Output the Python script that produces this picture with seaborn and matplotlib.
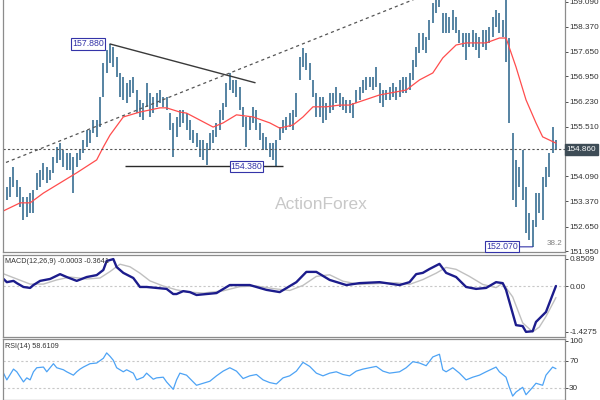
import matplotlib
matplotlib.use("Agg")
import matplotlib.pyplot as plt
import seaborn as sns
import numpy as np

# ---------------- data ----------------
highs = [
153.70,153.78,154.07,154.36,153.98,153.78,153.50,153.50,153.61,153.70,
154.19,154.27,154.47,154.36,154.27,154.64,154.93,155.04,154.84,154.76,
154.76,154.64,154.76,154.84,155.13,155.42,155.42,155.70,155.70,156.36,
157.34,157.71,157.88,157.79,157.51,157.05,156.93,156.76,156.85,156.93,
156.56,156.28,156.19,156.76,156.48,156.36,156.48,156.56,156.36,156.36,
155.90,155.62,155.79,155.99,155.99,155.90,155.70,155.42,155.33,155.13,
155.13,155.04,155.33,155.42,155.62,155.99,156.19,156.76,157.05,156.85,
156.85,156.65,156.08,155.79,155.79,156.08,155.99,155.62,155.33,155.22,
155.04,155.04,155.13,155.50,155.70,155.79,155.90,155.99,156.48,157.51,
157.77,157.62,157.34,156.85,156.48,156.36,156.36,156.19,156.48,156.48,
156.65,156.48,156.36,156.28,156.28,156.19,156.56,156.65,156.85,156.93,
156.93,156.93,157.22,156.76,156.56,156.56,156.65,156.76,156.65,156.85,
156.93,156.93,157.05,157.42,157.79,158.19,158.19,158.08,158.57,159.05,
159.20,159.20,158.77,158.77,158.65,158.85,158.65,158.28,158.19,158.19,
158.19,158.28,158.19,158.08,158.28,158.28,158.37,158.65,158.85,158.77,
158.57,159.20,158.05,155.33,154.56,154.36,154.84,153.78,153.04,152.84,
153.61,153.61,154.07,154.36,154.76,155.50,155.13]
lows = [
153.33,153.41,153.50,153.78,153.50,153.21,152.84,152.93,153.04,153.04,
153.70,153.78,153.98,153.90,153.98,154.19,154.47,154.56,154.36,154.27,
154.27,153.61,154.36,154.56,154.76,154.93,155.04,155.33,155.22,155.50,
156.36,157.05,157.34,157.22,156.93,156.36,156.28,156.19,156.36,156.48,
155.90,155.79,155.70,156.08,155.79,155.90,156.08,156.19,156.08,155.99,
155.42,154.64,155.22,155.50,155.62,155.42,155.13,155.04,154.93,154.64,
154.56,154.40,154.84,155.04,155.22,155.42,155.70,156.08,156.56,156.48,
156.36,155.99,155.50,154.93,155.42,155.62,155.42,155.13,154.84,154.84,
154.64,154.56,154.38,155.13,155.33,155.42,155.50,155.42,155.79,156.85,
157.22,157.14,156.85,156.36,155.79,155.79,155.62,155.70,155.90,155.99,
156.19,156.08,155.99,155.90,155.90,155.76,156.19,156.28,156.48,156.56,
156.65,156.56,156.65,156.19,156.08,156.28,156.28,156.36,156.28,156.36,
156.48,156.48,156.56,156.85,157.22,157.62,157.71,157.62,157.99,158.48,
158.77,158.94,158.19,158.19,158.19,158.28,158.19,157.91,157.79,157.42,
157.79,157.79,157.71,157.48,157.79,157.71,157.91,158.08,158.37,158.19,
158.08,157.36,155.62,153.41,153.21,153.78,153.41,152.47,152.27,152.07,
152.64,153.04,152.84,153.78,154.07,154.76,154.86]

ma_bar = [0,5,8,12,17,22,28,30,32,36,41,47,49,53,55,59,63,66,70,75,80,83,87,90,93,97,
          101,104,113,121,125,129,132,136,139,145,149,151,154,157,160,162,166]
ma_val = [153.10,153.33,153.33,153.61,153.90,154.19,154.56,154.93,155.27,155.79,155.93,
          156.05,156.05,155.93,155.90,155.70,155.50,155.62,155.85,155.79,155.62,155.47,
          155.56,155.79,156.08,156.08,156.13,156.13,156.42,156.56,156.85,157.05,157.48,
          157.85,157.91,157.91,158.05,158.05,157.22,156.28,155.62,155.22,155.04]

macd_bar = [0,1,3,4,6,8,9,11,14,17,19,22,25,28,30,31,33,34,36,39,41,43,46,49,51,52,54,56,
            58,64,68,74,79,83,88,91,94,98,103,107,113,119,122,124,126,128,131,133,136,139,
            142,145,148,150,151,154,156,157,159,160,163,166]
macd_val = [0.22,0.12,0.16,0.09,-0.03,-0.06,0.03,0.16,0.22,0.37,0.28,0.16,0.28,0.34,0.50,
            0.78,0.84,0.59,0.41,0.25,-0.03,-0.03,-0.06,-0.09,-0.25,-0.25,-0.16,-0.19,-0.28,
            -0.22,0.03,0.03,-0.12,-0.19,0.12,0.44,0.44,0.19,0.03,0.09,0.12,0.03,0.12,0.37,
            0.41,0.53,0.69,0.41,0.28,-0.03,-0.09,-0.06,0.12,0.09,-0.12,-1.22,-1.25,-1.43,
            -1.41,-1.12,-0.81,0.00]
sig_bar = [0,4,8,12,16,20,25,29,32,35,38,41,44,48,52,56,60,66,71,76,81,86,90,94,98,102,
           107,113,118,122,126,130,133,136,140,144,148,150,153,156,159,161,163,166]
sig_val = [0.38,0.22,0.06,0.06,0.19,0.28,0.22,0.25,0.45,0.68,0.60,0.40,0.16,0.0,-0.12,
           -0.19,-0.22,-0.15,-0.02,0.0,-0.08,-0.14,0.02,0.30,0.35,0.15,0.05,0.08,0.10,0.05,
           0.20,0.40,0.58,0.52,0.30,0.05,-0.05,0.09,-0.34,-1.15,-1.43,-1.28,-0.95,-0.36]

rsi_bar = [0,1,3,4,6,7,8,9,10,12,13,15,16,18,19,21,22,23,24,26,28,30,31,32,33,34,36,37,39,
           40,42,43,45,46,48,49,51,52,53,55,57,58,62,64,66,68,70,72,74,76,78,80,82,84,86,88,
           90,92,94,96,98,100,102,104,106,108,110,112,114,116,119,121,123,125,127,129,131,
           132,133,135,137,139,141,143,145,148,149,151,152,153,154,156,157,159,160,162,163,
           165,166]
rsi_val = [52,42,58,54,39,45,42,54,60,61,54,66,60,57,54,49,54,58,61,66,67,74,82,77,71,60,
           54,57,52,42,46,52,43,45,46,39,28,42,52,49,39,34,40,48,55,60,55,44,48,50,42,38,36,
           45,48,55,68,62,52,48,52,54,50,48,55,58,60,62,55,52,54,60,69,67,63,76,80,57,54,60,
           52,42,46,49,54,61,54,46,31,18,24,31,20,31,37,34,49,61,58.61]

price_ticks = [159.090, 158.370, 157.650, 156.950, 156.230, 155.510,
               154.090, 153.370, 152.650, 151.950]
last_price = 154.860
peak_bar, peak_price = 32, 157.880
support_bar, support_price = 82, 154.380
low_bar, low_price = 159, 152.070
trend_up_bar = [-1, 130]
trend_up_val = [154.42, 159.41]
trend_down_bar = [32, 75.6]
trend_down_val = [157.88, 156.77]
support_span = [36.5, 84]
macd_ticks = [0.8509, 0.0, -1.4275]
macd_tick_labels = ["0.8509", "0.00", "-1.4275"]
rsi_ticks = [100, 70, 30]
macd_label = "MACD(12,26,9) -0.0003 -0.3641"
rsi_label = "RSI(14) 58.6109"
fib_label = "38.2"
watermark = "ActionForex"

# ---------------- style ----------------
sns.set_style("white")
plt.rcParams['font.family'] = ['Liberation Sans', 'DejaVu Sans']

BAR = '#4f7f9f'
SPINE = '#8c8c8c'
TXT = '#333333'
BOXC = '#3434a8'

fig = plt.figure(figsize=(6, 4), dpi=100)
W = 562 / 600
ax = fig.add_axes([3 / 600, 1 - 252 / 400, W, 252 / 400])
axm = fig.add_axes([3 / 600, 1 - 337 / 400, W, 82 / 400])
axr = fig.add_axes([3 / 600, 0, W, 61 / 400])

xlim = (-0.15, 168.72)
for a in (ax, axm, axr):
    a.set_xlim(*xlim)
    a.set_xticks([])
    a.yaxis.tick_right()
    a.tick_params(axis='y', labelsize=5.9, colors=TXT, length=2, width=0.6, pad=1,
                  direction='out')
    for s in a.spines.values():
        s.set_color(SPINE)
        s.set_linewidth(0.9)
ax.spines['top'].set_visible(False)

# ---------------- main price panel ----------------
idx = np.arange(len(highs))
ax.vlines(idx, lows, highs, color=BAR, lw=1.35)
sns.lineplot(x=ma_bar, y=ma_val, ax=ax, color='#ff4d4d', lw=0.9, sort=False,
             estimator=None, legend=False)
ax.plot(trend_up_bar, trend_up_val, color='#555555', lw=0.9, ls=(0, (2.5, 2.5)))
ax.plot(trend_down_bar, trend_down_val, color='#3a3a3a', lw=1.0)
ax.hlines(support_price, support_span[0], support_span[1], color='#2a2a2a', lw=1.0)
ax.axhline(last_price, color='#555555', lw=0.8, ls=(0, (2, 2)))
ax.set_ylim(151.922, 159.139)
ax.set_yticks(price_ticks)
ax.set_yticklabels([f"{v:.3f}" for v in price_ticks])

bbox = dict(boxstyle='square,pad=0.12', fc='white', ec=BOXC, lw=0.8)
ax.annotate(f"{peak_price:.3f}", xy=(peak_bar, peak_price), xytext=(-6, 0),
            textcoords='offset pixels', ha='right', va='center', fontsize=6.3,
            color=BOXC, bbox=bbox)
ax.annotate(f"{support_price:.3f}", xy=(support_bar, support_price), xytext=(-14, 0),
            textcoords='offset pixels', ha='right', va='center', fontsize=6.3,
            color=BOXC, bbox=bbox)
ax.annotate(f"{low_price:.3f}", xy=(low_bar, low_price), xytext=(-15, 0),
            textcoords='offset pixels', ha='right', va='center', fontsize=6.3,
            color=BOXC, bbox=bbox,
            arrowprops=dict(arrowstyle='-', color=BOXC, lw=0.8, shrinkA=0, shrinkB=0))
ax.text(1.003, last_price, f"{last_price:.3f}", transform=ax.get_yaxis_transform(),
        ha='left', va='center', fontsize=5.9, color='white',
        bbox=dict(boxstyle='square,pad=0.2', fc='#3e4c56', ec='#3e4c56'))
ax.text(0.995, 0.032, fib_label, transform=ax.transAxes, ha='right', va='center',
        fontsize=5.8, color='#808080')
fig.text(321 / 600, 1 - 205 / 400, watermark, fontsize=12.5, color='#c8c8c8',
         ha='center', va='center')

# ---------------- MACD panel ----------------
axm.axhline(0, color='#c8c8c8', lw=0.8, ls=(0, (2, 2)))
sns.lineplot(x=sig_bar, y=sig_val, ax=axm, color='#c0c0c0', lw=1.0, sort=False,
             estimator=None, legend=False)
sns.lineplot(x=macd_bar, y=macd_val, ax=axm, color='#1c1c8c', lw=1.7, sort=False,
             estimator=None, legend=False)
axm.set_ylim(-1.59, 0.967)
axm.set_yticks(macd_ticks)
axm.set_yticklabels(macd_tick_labels)
axm.text(0.004, 0.915, macd_label, transform=axm.transAxes, ha='left', va='center',
         fontsize=5.2, color=TXT)

# ---------------- RSI panel ----------------
for lv in (70, 30):
    axr.axhline(lv, color='#c8c8c8', lw=0.8, ls=(0, (2, 2)))
sns.lineplot(x=rsi_bar, y=rsi_val, ax=axr, color='#4da3f5', lw=0.9, sort=False,
             estimator=None, legend=False)
axr.set_ylim(12.2, 102.6)
axr.set_yticks(rsi_ticks)
axr.set_yticklabels([str(v) for v in rsi_ticks])
axr.text(0.003, 0.885, rsi_label, transform=axr.transAxes, ha='left', va='center',
         fontsize=5.2, color=TXT)

for a in (ax, axm, axr):
    a.set_xlabel('')
    a.set_ylabel('')

fig.savefig("out.png", dpi=100)
